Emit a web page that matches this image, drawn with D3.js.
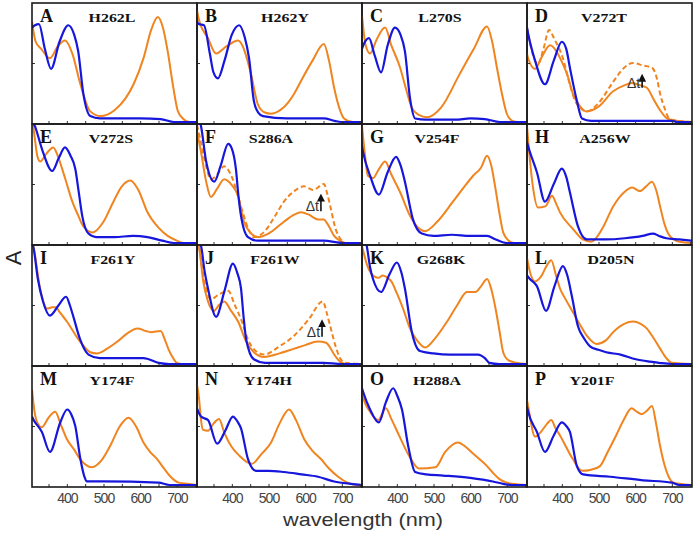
<!DOCTYPE html>
<html>
<head>
<meta charset="utf-8">
<script src="https://cdn.jsdelivr.net/npm/d3@7"></script>
<style>
  body { margin: 0; background: #fff; }
</style>
</head>
<body>
<script>
// panel letters and mutant names
const panels = ["A","B","C","D","E","F","G","H","I","J","K","L","M","N","O","P"];
const mutants = ["H262L","H262Y","L270S","V272T","V272S","S286A","V254F","A256W",
                 "F261Y","F261W","G268K","D205N","Y174F","Y174H","H288A","Y201F"];

// spectra as [wavelength nm, relative absorbance]
const blueA = [[305,0.80],[313,0.82],[324,0.83],[340,0.62],[357,0.45],[380,0.68],[404,0.82],[420,0.74],[431,0.60],[445,0.24],[464,0.05],[490,0.03],[600,0.03],[656,0.025],[692,0],[755,0]];
const orangeA = [[305,0.85],[315,0.68],[330,0.62],[354,0.54],[375,0.64],[395,0.69],[415,0.58],[437,0.32],[464,0.09],[492,0.05],[530,0.10],[560,0.20],[582,0.32],[610,0.55],[630,0.78],[648,0.89],[662,0.80],[675,0.60],[690,0.30],[703,0.09],[720,0.02],[735,0],[755,0]];
const blueB = [[305,0.85],[310,0.83],[324,0.82],[340,0.58],[350,0.42],[362,0.37],[380,0.52],[400,0.74],[420,0.82],[435,0.72],[447,0.54],[460,0.18],[472,0.08],[485,0.05],[550,0.03],[651,0.03],[680,0.01],[698,0],[755,0]];
const orangeB = [[305,0.95],[310,0.87],[335,0.71],[357,0.58],[385,0.64],[417,0.69],[430,0.64],[452,0.41],[471,0.15],[490,0.08],[507,0.07],[540,0.12],[570,0.24],[589,0.35],[620,0.52],[651,0.66],[665,0.52],[679,0.29],[695,0.10],[706,0.03],[730,0],[755,0]];
const blueC = [[305,0.62],[310,0.66],[324,0.71],[340,0.56],[357,0.42],[375,0.65],[395,0.80],[410,0.74],[422,0.60],[436,0.20],[450,0.03],[480,0.02],[560,0.02],[600,0.03],[640,0.025],[681,0],[755,0]];
const orangeC = [[305,0.90],[315,0.65],[327,0.58],[345,0.70],[368,0.80],[385,0.65],[409,0.46],[425,0.28],[441,0.12],[460,0.06],[482,0.04],[520,0.12],[572,0.41],[610,0.62],[646,0.81],[660,0.68],[673,0.46],[688,0.22],[700,0.07],[715,0.01],[730,0],[755,0]];
const blueD = [[305,0.80],[308,0.75],[327,0.52],[354,0.32],[378,0.52],[400,0.68],[412,0.62],[422,0.46],[441,0.18],[455,0.03],[480,0.01],[700,0.01],[715,0],[755,0]];
const orangeD = [[305,0.58],[308,0.54],[327,0.45],[345,0.55],[368,0.65],[385,0.60],[403,0.49],[415,0.40],[430,0.24],[448,0.14],[468,0.09],[500,0.13],[540,0.26],[570,0.31],[591,0.33],[615,0.31],[632,0.29],[649,0.20],[668,0.10],[687,0.03],[710,0.01],[755,0]];
const dashD = [[305,0.80],[308,0.75],[335,0.49],[350,0.62],[365,0.78],[380,0.70],[403,0.54],[420,0.34],[436,0.18],[450,0.12],[468,0.09],[500,0.16],[540,0.34],[570,0.46],[594,0.50],[620,0.48],[646,0.46],[660,0.36],[668,0.24],[680,0.12],[693,0.03],[715,0.01],[755,0]];
const blueE = [[305,1.05],[313,0.99],[335,0.77],[360,0.61],[378,0.72],[395,0.81],[410,0.74],[423,0.63],[433,0.42],[442,0.23],[459,0.08],[480,0.05],[530,0.05],[580,0.06],[620,0.05],[660,0.02],[692,0],[755,0]];
const orangeE = [[305,1.05],[310,0.95],[320,0.73],[327,0.69],[345,0.76],[363,0.81],[375,0.74],[387,0.63],[400,0.50],[415,0.35],[430,0.24],[445,0.14],[470,0.09],[500,0.18],[527,0.35],[550,0.48],[573,0.53],[595,0.45],[620,0.26],[650,0.13],[675,0.06],[700,0.02],[720,0],[755,0]];
const blueF = [[305,1.10],[316,0.99],[330,0.69],[352,0.52],[370,0.66],[390,0.84],[400,0.80],[411,0.63],[418,0.40],[425,0.23],[444,0.05],[470,0.02],[650,0.02],[706,0],[755,0]];
const orangeF = [[305,0.95],[316,0.77],[330,0.52],[343,0.39],[360,0.46],[379,0.54],[400,0.49],[417,0.40],[433,0.18],[450,0.09],[471,0.05],[500,0.08],[542,0.18],[570,0.24],[589,0.26],[610,0.24],[635,0.20],[650,0.20],[665,0.14],[679,0.06],[695,0.02],[710,0],[755,0]];
const dashF = [[305,1.00],[316,0.85],[330,0.65],[343,0.54],[360,0.58],[379,0.65],[400,0.56],[425,0.31],[445,0.12],[460,0.05],[490,0.10],[520,0.24],[542,0.35],[570,0.44],[597,0.48],[622,0.45],[651,0.50],[660,0.42],[670,0.29],[683,0.12],[695,0.04],[710,0],[755,0]];
const blueG = [[305,0.82],[308,0.77],[327,0.57],[351,0.41],[375,0.60],[398,0.73],[410,0.66],[422,0.52],[444,0.20],[468,0.08],[500,0.06],[550,0.07],[600,0.06],[646,0.06],[670,0.03],[700,0],[755,0]];
const orangeG = [[305,0.99],[313,0.75],[321,0.57],[335,0.55],[350,0.62],[368,0.69],[385,0.58],[409,0.43],[436,0.23],[455,0.14],[477,0.10],[510,0.18],[553,0.35],[580,0.46],[608,0.57],[630,0.64],[646,0.74],[658,0.65],[668,0.48],[680,0.25],[690,0.09],[705,0.02],[720,0],[755,0]];
const blueH = [[305,0.85],[313,0.77],[332,0.60],[354,0.35],[378,0.50],[400,0.63],[412,0.56],[422,0.43],[444,0.14],[468,0.03],[520,0.03],[572,0.04],[620,0.06],[649,0.08],[665,0.06],[685,0.04],[720,0.03],[755,0.02]];
const orangeH = [[305,0.99],[313,0.70],[321,0.48],[335,0.30],[355,0.31],[373,0.40],[385,0.33],[395,0.26],[430,0.12],[457,0.03],[480,0.01],[510,0.12],[540,0.31],[570,0.43],[592,0.47],[613,0.44],[630,0.48],[646,0.52],[658,0.44],[668,0.31],[680,0.16],[690,0.08],[705,0.03],[720,0.01],[755,0]];
const blueI = [[305,1.02],[308,1.00],[321,0.72],[335,0.53],[354,0.41],[378,0.50],[398,0.57],[408,0.50],[417,0.41],[436,0.21],[459,0.08],[490,0.05],[560,0.05],[609,0.05],[650,0.01],[680,0],[755,0]];
const orangeI = [[305,1.02],[308,1.00],[327,0.64],[346,0.47],[360,0.48],[368,0.48],[383,0.43],[400,0.36],[436,0.19],[464,0.10],[482,0.09],[510,0.13],[538,0.19],[565,0.26],[593,0.30],[615,0.28],[629,0.27],[656,0.28],[668,0.20],[678,0.12],[690,0.05],[700,0.01],[715,0],[755,0]];
const blueJ = [[305,1.05],[316,1.00],[325,0.80],[335,0.64],[357,0.40],[380,0.62],[403,0.85],[415,0.77],[425,0.64],[432,0.40],[439,0.21],[460,0.04],[490,0.01],[650,0.01],[700,0],[755,0]];
const orangeJ = [[305,1.05],[310,1.00],[322,0.70],[335,0.53],[351,0.45],[365,0.50],[379,0.53],[398,0.45],[417,0.36],[439,0.19],[460,0.10],[488,0.06],[530,0.09],[570,0.13],[600,0.16],[635,0.19],[657,0.18],[668,0.14],[679,0.08],[695,0.02],[710,0],[755,0]];
const dashJ = [[305,1.05],[310,1.00],[325,0.70],[343,0.55],[365,0.59],[390,0.62],[408,0.50],[425,0.38],[445,0.20],[465,0.11],[488,0.08],[530,0.15],[570,0.24],[610,0.38],[648,0.53],[660,0.42],[670,0.30],[683,0.15],[695,0.05],[710,0.01],[755,0]];
const blueK = [[305,1.10],[318,1.00],[327,0.82],[335,0.72],[357,0.61],[380,0.76],[400,0.86],[412,0.78],[422,0.64],[441,0.27],[463,0.11],[500,0.09],[545,0.08],[621,0.08],[640,0.05],[652,0.01],[680,0],[755,0]];
const orangeK = [[305,1.00],[320,0.83],[335,0.75],[349,0.73],[362,0.75],[375,0.73],[385,0.70],[400,0.60],[417,0.47],[436,0.30],[455,0.20],[477,0.14],[505,0.22],[537,0.36],[565,0.50],[591,0.61],[614,0.61],[630,0.66],[646,0.72],[658,0.63],[668,0.49],[680,0.28],[690,0.10],[705,0.03],[725,0.01],[755,0]];
const blueL = [[305,0.75],[313,0.72],[332,0.66],[357,0.45],[380,0.66],[403,0.83],[415,0.75],[427,0.58],[444,0.32],[460,0.22],[477,0.15],[500,0.12],[521,0.10],[560,0.08],[602,0.04],[640,0.02],[665,0.01],[700,0],[755,0]];
const orangeL = [[305,0.90],[308,0.85],[327,0.70],[343,0.74],[360,0.84],[371,0.88],[385,0.74],[395,0.64],[410,0.55],[430,0.44],[450,0.33],[468,0.24],[495,0.17],[520,0.20],[540,0.27],[570,0.34],[594,0.36],[615,0.34],[632,0.30],[650,0.22],[668,0.13],[685,0.05],[700,0.01],[755,0]];
const blueM = [[305,0.58],[308,0.56],[332,0.45],[354,0.28],[382,0.53],[401,0.64],[412,0.60],[423,0.50],[437,0.22],[447,0.08],[455,0.03],[500,0.03],[650,0.02],[680,0],[755,0]];
const orangeM = [[305,0.81],[312,0.62],[321,0.52],[332,0.49],[350,0.57],[368,0.62],[385,0.50],[400,0.39],[420,0.30],[436,0.22],[452,0.17],[468,0.15],[495,0.21],[518,0.33],[545,0.50],[568,0.57],[590,0.49],[609,0.36],[630,0.27],[646,0.22],[665,0.14],[683,0.07],[705,0.02],[730,0.01],[755,0]];
const blueN = [[305,0.65],[316,0.58],[335,0.55],[360,0.35],[382,0.46],[403,0.58],[415,0.54],[425,0.48],[444,0.22],[466,0.12],[500,0.12],[542,0.11],[590,0.09],[635,0.07],[679,0.03],[725,0.01],[755,0]];
const orangeN = [[305,0.85],[310,0.75],[316,0.55],[321,0.47],[335,0.46],[350,0.52],[365,0.56],[380,0.44],[398,0.33],[420,0.25],[444,0.19],[455,0.18],[480,0.26],[507,0.36],[530,0.52],[556,0.64],[575,0.55],[597,0.39],[620,0.29],[643,0.22],[665,0.14],[690,0.07],[715,0.02],[740,0],[755,0]];
const blueO = [[305,0.82],[308,0.79],[327,0.64],[351,0.53],[370,0.70],[390,0.82],[402,0.75],[414,0.64],[431,0.33],[450,0.11],[480,0.09],[526,0.08],[600,0.06],[662,0.03],[690,0.01],[715,0],[755,0]];
const orangeO = [[305,0.80],[308,0.75],[327,0.62],[349,0.55],[370,0.65],[385,0.56],[406,0.42],[433,0.25],[460,0.14],[505,0.15],[532,0.28],[567,0.36],[585,0.33],[603,0.28],[625,0.22],[646,0.16],[663,0.10],[680,0.05],[700,0.02],[715,0.01],[755,0]];
const blueP = [[305,0.66],[308,0.62],[332,0.45],[354,0.28],[378,0.42],[400,0.53],[412,0.50],[422,0.45],[441,0.16],[458,0.09],[532,0.07],[621,0.04],[700,0.02],[720,0],[755,0]];
const orangeP = [[305,0.72],[308,0.67],[327,0.41],[343,0.45],[360,0.52],[371,0.55],[383,0.48],[395,0.42],[430,0.22],[455,0.12],[480,0.13],[504,0.16],[525,0.28],[548,0.42],[570,0.56],[590,0.65],[605,0.62],[618,0.60],[632,0.63],[646,0.67],[657,0.52],[668,0.33],[680,0.17],[690,0.08],[705,0.02],[720,0.01],[755,0]];

const blueSeries = [blueA,blueB,blueC,blueD,blueE,blueF,blueG,blueH,blueI,blueJ,blueK,blueL,blueM,blueN,blueO,blueP];
const orangeSeries = [orangeA,orangeB,orangeC,orangeD,orangeE,orangeF,orangeG,orangeH,orangeI,orangeJ,orangeK,orangeL,orangeM,orangeN,orangeO,orangeP];

// dashed (later time) spectra and the "Δt" arrows
const dashPanels = ["D","F","J"];
const dashSeries = [dashD, dashF, dashJ];
const dtWl = [619, 643, 646];
const dtLow = [0.29, 0.27, 0.23];
const dtHigh = [0.40, 0.41, 0.37];

// x ticks and labels
const xTicks = [350,400,450,500,550,600,650,700,750];
const xLabels = [400,500,600,700];

//sizes
var w = 693;
var h = 534;
var marginL = 32, marginT = 3;
var pw = 165, ph = 121;
// small nudges for the mutant names
var nameDx = [80,88,78,77,79,74,75,78,81,78,79,84,80,71,75,65];

var blue = "#1616dc";
var orange = "#f0841f";

var svg = d3.select("body").append("svg").attr("width", w).attr("height", h);

var xScale = d3.scaleLinear().domain([305, 755]).range([0, pw]);
var yScale = d3.scaleLinear().domain([0, 1]).range([ph - 2, ph - 120]);

var line = d3.line()
  .x(function (d) { return xScale(d[0]); })
  .y(function (d) { return yScale(d[1]); })
  .curve(d3.curveMonotoneX);

var defs = svg.append("defs");
defs.append("clipPath").attr("id", "clip")
  .append("rect").attr("x", 0).attr("y", 0).attr("width", pw).attr("height", ph);
defs.append("marker").attr("id", "arrow")
  .attr("viewBox", "0 0 10 10").attr("refX", 5).attr("refY", 5)
  .attr("markerWidth", 5).attr("markerHeight", 6).attr("orient", "auto")
  .append("path").attr("d", "M0,0 L10,5 L0,10 z").attr("fill", "#111");

panels.forEach(function (p, i) {
  var col = i % 4, row = Math.floor(i / 4);
  var g = svg.append("g")
    .attr("transform", "translate(" + (marginL + col * pw) + "," + (marginT + row * ph) + ")");

  var plot = g.append("g").attr("clip-path", "url(#clip)");

  var k = dashPanels.indexOf(p);
  if (k >= 0) {
    plot.append("path").datum(dashSeries[k])
      .attr("d", line).attr("fill", "none")
      .attr("stroke", orange).attr("stroke-width", 2)
      .attr("stroke-dasharray", "5,3");
  }
  plot.append("path").datum(orangeSeries[i])
    .attr("d", line).attr("fill", "none")
    .attr("stroke", orange).attr("stroke-width", 2);
  plot.append("path").datum(blueSeries[i])
    .attr("d", line).attr("fill", "none")
    .attr("stroke", blue).attr("stroke-width", 2.2);

  if (k >= 0) {
    var ax = xScale(dtWl[k]);
    g.append("line")
      .attr("x1", ax).attr("x2", ax)
      .attr("y1", yScale(dtLow[k])).attr("y2", yScale(dtHigh[k]) + 3)
      .attr("stroke", "#111").attr("stroke-width", 1.6)
      .attr("marker-end", "url(#arrow)");
    g.append("text")
      .attr("x", ax - 2).attr("y", yScale(dtLow[k]))
      .attr("text-anchor", "end")
      .attr("font-family", "Liberation Sans, Arial, sans-serif")
      .attr("font-size", 14).attr("fill", "#333")
      .text("Δt");
  }

  // x axis ticks (labels only on bottom row)
  var xAxis = d3.axisBottom(xScale)
    .tickValues(xTicks)
    .tickSize(-3)
    .tickPadding(6)
    .tickFormat(function (d) {
      return row === 3 && xLabels.indexOf(d) >= 0 ? d : "";
    });
  var xa = g.append("g").attr("transform", "translate(0," + ph + ")").call(xAxis);
  xa.select(".domain").remove();
  xa.selectAll("line").attr("stroke", "#333");
  xa.selectAll("text")
    .attr("font-family", "Liberation Sans, Arial, sans-serif")
    .attr("font-size", 14).attr("fill", "#444")
    .attr("letter-spacing", "-1px");

  var yAxis = d3.axisLeft(yScale).tickValues([0.5]).tickSize(-3).tickFormat("");
  var ya = g.append("g").call(yAxis);
  ya.select(".domain").remove();
  ya.selectAll("line").attr("stroke", "#333");

  g.append("rect")
    .attr("width", pw).attr("height", ph)
    .attr("fill", "none").attr("stroke", "#1a1a1a").attr("stroke-width", 1.6);

  g.append("text")
    .attr("x", 8).attr("y", 19)
    .attr("font-family", "Liberation Serif, Times New Roman, serif")
    .attr("font-weight", "bold").attr("font-size", 18).attr("fill", "#111")
    .text(p);

  var nm = g.append("text")
    .attr("x", nameDx[i]).attr("y", 19)
    .attr("text-anchor", "middle")
    .attr("font-family", "Liberation Serif, Times New Roman, serif")
    .attr("font-weight", "bold").attr("font-size", 13.5).attr("fill", "#111")
    .text(mutants[i]);
  // the names in the original are a bit wider than the font
  var len = nm.node().getComputedTextLength();
  nm.attr("textLength", len * 1.18).attr("lengthAdjust", "spacingAndGlyphs");
});

svg.append("text")
  .attr("transform", "translate(21,258) rotate(-90)")
  .attr("text-anchor", "middle")
  .attr("font-family", "Liberation Sans, Arial, sans-serif")
  .attr("font-size", 22).attr("fill", "#222")
  .text("A");

svg.append("text")
  .attr("x", 363).attr("y", 526)
  .attr("text-anchor", "middle")
  .attr("font-family", "Liberation Sans, Arial, sans-serif")
  .attr("font-size", 19).attr("fill", "#333")
  .attr("textLength", 160).attr("lengthAdjust", "spacingAndGlyphs")
  .text("wavelength (nm)");
</script>
</body>
</html>
